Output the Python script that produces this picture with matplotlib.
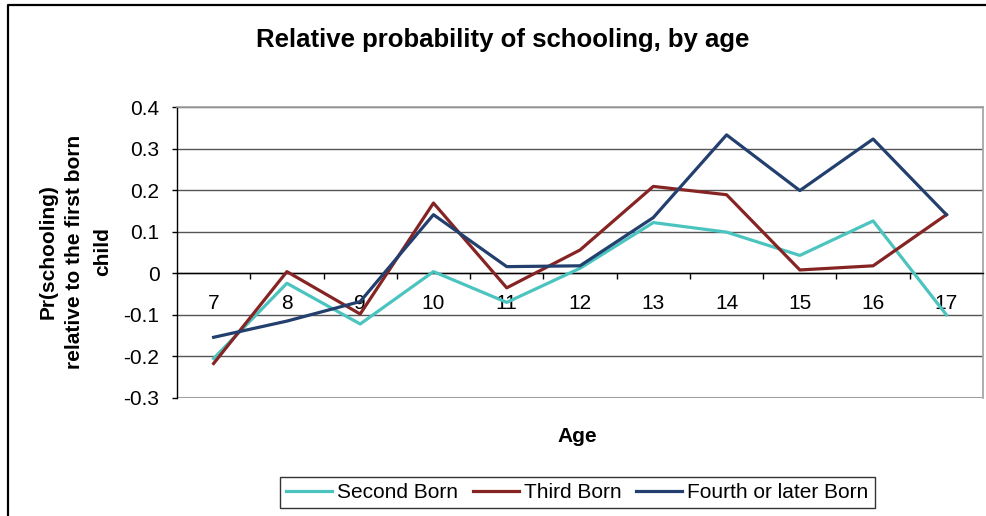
import numpy as np
import matplotlib.pyplot as plt
from matplotlib.lines import Line2D

plt.rcParams['font.family'] = ['Liberation Sans', 'DejaVu Sans']

# ages and relative probabilities per birth order
ages = ['7', '8', '9', '10', '11', '12', '13', '14', '15', '16', '17']
second_born = [-0.205, -0.024, -0.122, 0.004, -0.070, 0.012, 0.122, 0.099, 0.043, 0.126, -0.100]
third_born = [-0.217, 0.004, -0.098, 0.169, -0.035, 0.056, 0.209, 0.189, 0.008, 0.018, 0.141]
fourth_born = [-0.154, -0.115, -0.068, 0.141, 0.016, 0.018, 0.134, 0.333, 0.199, 0.323, 0.141]

yticks = [-0.3, -0.2, -0.1, 0, 0.1, 0.2, 0.3, 0.4]
ytick_labels = ['-0.3', '-0.2', '-0.1', '0', '0.1', '0.2', '0.3', '0.4']

fig = plt.figure(figsize=(9.86, 5.16), dpi=100)
ax = fig.add_axes([0.1795, 0.2287, 0.8175, 0.5639])

x = np.arange(len(ages))
ax.plot(x, second_born, color='#4bc4c0', lw=2.3, label='Second Born', zorder=4)
ax.plot(x, third_born, color='#862424', lw=2.3, label='Third Born', zorder=4)
ax.plot(x, fourth_born, color='#233f6e', lw=2.3, label='Fourth or later Born', zorder=4)

ax.set_xlim(-0.5, len(ages) - 0.5)
ax.set_ylim(-0.3, 0.4)
ax.set_yticks(yticks)
ax.set_yticklabels(ytick_labels)

# category axis sits on y = 0, ticks between categories
ax.spines['bottom'].set_position(('data', 0))
ax.spines['bottom'].set_color('black')
ax.spines['bottom'].set_linewidth(1.0)
ax.spines['left'].set_color('black')
ax.spines['left'].set_linewidth(1.0)
for s in ['top', 'right']:
    ax.spines[s].set_color('#a0a0a0')
    ax.spines[s].set_linewidth(1.2)

ax.set_xticks(x)
ax.set_xticklabels(ages)
ax.set_xticks(np.arange(0.5, len(ages) - 1, 1.0), minor=True)
ax.tick_params(axis='x', which='major', length=0, pad=15, labelsize=15)
ax.tick_params(axis='x', which='minor', length=4.5, width=1, direction='out')
ax.tick_params(axis='y', length=3.6, width=1, pad=9, labelsize=15)

ax.yaxis.grid(True, color='#555555', lw=1.0)
ax.axhline(-0.3, color='#a0a0a0', lw=1.5, zorder=2)
ax.set_axisbelow(True)

fig.text(0.51, 0.922, 'Relative probability of schooling, by age',
         ha='center', va='center', fontsize=18.5, fontweight='bold')
fig.text(0.585, 0.155, 'Age', ha='center', va='center', fontsize=15, fontweight='bold')
fig.text(0.076, 0.512, 'Pr(schooling)\nrelative to the first born\nchild',
         ha='center', va='center', rotation=90, multialignment='center',
         fontsize=15, fontweight='bold', linespacing=1.55)

leg = fig.legend(loc='center', bbox_to_anchor=(0.5857, 0.0455), ncol=3,
                 fontsize=15, frameon=True, fancybox=False, shadow=False,
                 handlelength=2.2, handletextpad=0.25, columnspacing=0.7,
                 borderpad=0.3, edgecolor='black')
leg.get_frame().set_linewidth(1.0)

# outer chart frame
fig.add_artist(Line2D([8 / 986, 8 / 986, 1.0], [0.0, 1 - 5 / 516, 1 - 5 / 516],
                      transform=fig.transFigure, color='black', lw=1.6))

fig.savefig('out.png', dpi=100)
